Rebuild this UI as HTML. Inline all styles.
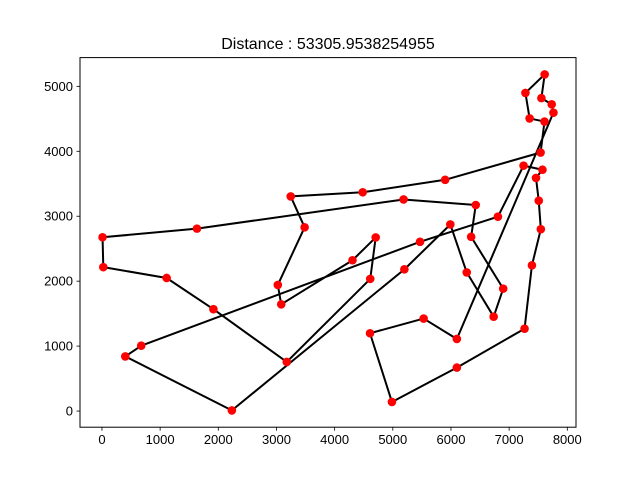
<!DOCTYPE html>
<html><head><meta charset="utf-8"><style>
body{margin:0;background:#fff;}
svg{display:block;font-family:"Liberation Sans","DejaVu Sans",sans-serif;}
</style></head><body>
<svg id="chart" width="640" height="480" viewBox="0 0 640 480">
<rect width="640" height="480" fill="#fff"/>
<text x="328" y="49" text-anchor="middle" font-size="16" fill="#000">Distance : 53305.9538254955</text>
<g id="ticks"></g>
<g id="route"></g>
<g id="points"></g>
<rect x="80" y="57.6" width="496" height="369.6" fill="none" stroke="#000" stroke-width="1"/>
</svg>
<script>
const tourX = [7611,7555,7732,7762,6101,5530,4608,4985,6101,7265,7392,7545,7509,7462,7573,7248,6807,5468,675,401,2233,5199,5989,6271,6734,6898,6347,6426,5185,1633,10,23,1112,1916,3177,4612,4706,4307,3082,3023,3484,3245,4483,5900,7541,7608,7352,7280];
const tourY = [5184,4819,4723,4595,1110,1424,1198,140,669,1268,2244,2801,3239,3590,3716,3779,2993,2606,1006,841,10,2182,2873,2135,1453,1885,2683,3173,3258,2809,2676,2216,2049,1569,756,2035,2674,2322,1644,1942,2829,3305,3369,3561,3981,4458,4506,4899];
const xTicks = [0,1000,2000,3000,4000,5000,6000,7000,8000];
const yTicks = [0,1000,2000,3000,4000,5000];

const L=80,R=576,T=57.6,B=427.2;
const xmin=-377.6,xmax=8149.6,ymin=-248.7,ymax=5442.7;
const sx=v=>L+(v-xmin)/(xmax-xmin)*(R-L);
const sy=v=>B-(v-ymin)/(ymax-ymin)*(B-T);
const NS="http://www.w3.org/2000/svg";
function mk(t,a,p){const e=document.createElementNS(NS,t);for(const k in a)e.setAttribute(k,a[k]);p.appendChild(e);return e;}
const tg=document.getElementById('ticks');
xTicks.forEach(v=>{
  const ln=mk('line',{x1:sx(v),x2:sx(v),y1:B,y2:B+3.5,stroke:'#000','stroke-width':0.8},tg);
  
  
  const t=mk('text',{x:sx(v),y:B+17,'text-anchor':'middle','font-size':13},tg);
  t.textContent=v;
  
  
});
yTicks.forEach(v=>{
  const ln=mk('line',{x1:L-3.5,x2:L,y1:sy(v),y2:sy(v),stroke:'#000','stroke-width':0.8},tg);
  
  
  const t=mk('text',{x:L-7,y:sy(v)+4.5,'text-anchor':'end','font-size':13},tg);
  t.textContent=v;
  
  
});
const pts=tourX.map((x,i)=>sx(x).toFixed(2)+','+sy(tourY[i]).toFixed(2));
pts.push(pts[0]);
const rg=document.getElementById('route');
const pl=mk('polyline',{points:pts.join(' '),fill:'none',stroke:'#000','stroke-width':2,'stroke-linejoin':'round'},rg);


const pg=document.getElementById('points');
tourX.forEach((x,i)=>{
  const c=mk('circle',{cx:sx(x),cy:sy(tourY[i]),r:4.3,fill:'#ff0000'},pg);
  
  
});
</script>
</body></html>
